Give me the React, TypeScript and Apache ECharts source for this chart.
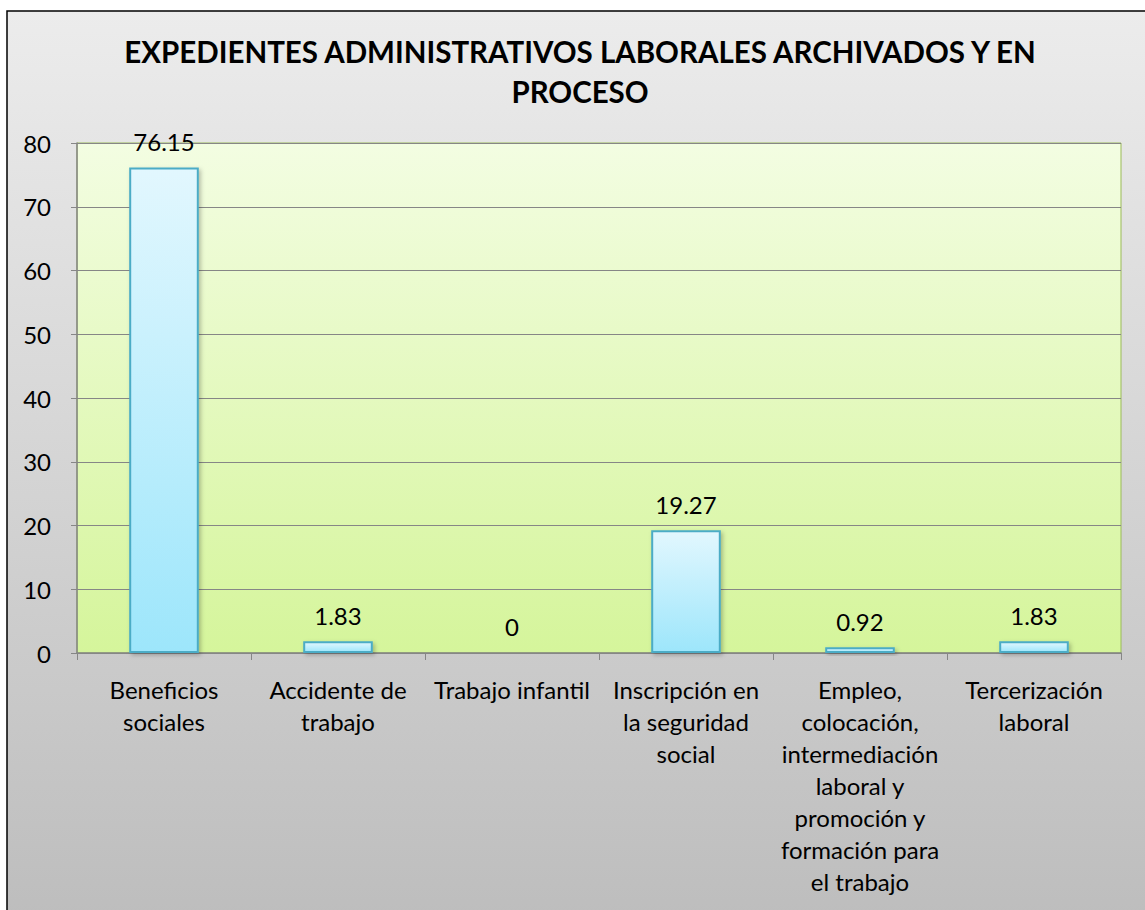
import React, { useEffect, useRef } from "react";
import * as echarts from "echarts";

const titleText = "EXPEDIENTES ADMINISTRATIVOS LABORALES ARCHIVADOS Y EN\nPROCESO";
const categories = [
  "Beneficios\nsociales",
  "Accidente de\ntrabajo",
  "Trabajo infantil",
  "Inscripción en\nla seguridad\nsocial",
  "Empleo,\ncolocación,\nintermediación\nlaboral y\npromoción y\nformación para\nel trabajo",
  "Tercerización\nlaboral",
];
const values = [76.15, 1.83, 0, 19.27, 0.92, 1.83];
const yMin = 0;
const yMax = 80;
const yInterval = 10;

const FONT = "Lato, 'Open Sans', sans-serif";

export default function App() {
  const ref = useRef<HTMLDivElement>(null);
  useEffect(() => {
    document.body.style.margin = "0";
    const chart = echarts.init(ref.current!, null, { renderer: "svg" });
    chart.setOption({
      animation: false,
      textStyle: { fontFamily: FONT },
      title: {
        text: titleText,
        left: 575,
        textAlign: "center",
        top: 26,
        textStyle: {
          fontFamily: FONT,
          fontSize: 29.5,
          fontWeight: "bold",
          color: "#000",
          lineHeight: 40,
        },
      },
      graphic: [
        {
          type: "rect",
          z: -100,
          shape: { x: 7, y: 11, width: 1160, height: 930 },
          style: {
            fill: new echarts.graphic.LinearGradient(0, 0, 0, 1, [
              { offset: 0, color: "#ececec" },
              { offset: 1, color: "#bcbcbc" },
            ]),
            stroke: "#000",
            lineWidth: 1.5,
          },
        },
      ],
      grid: {
        left: 77,
        top: 143,
        width: 1044,
        height: 510,
        show: true,
        borderColor: "#9bbb59",
        borderWidth: 1,
        backgroundColor: new echarts.graphic.LinearGradient(0, 0, 0, 1, [
          { offset: 0, color: "#f3fde2" },
          { offset: 1, color: "#d5f59b" },
        ]),
      },
      xAxis: {
        type: "category",
        data: categories,
        axisLine: { show: true, lineStyle: { color: "#868686", width: 1.5 } },
        axisTick: { show: true, alignWithLabel: false, length: 7, lineStyle: { color: "#868686" } },
        axisLabel: {
          interval: 0,
          color: "#000",
          fontSize: 24,
          lineHeight: 32,
          margin: 20,
          fontFamily: FONT,
        },
      },
      yAxis: {
        type: "value",
        min: yMin,
        max: yMax,
        interval: yInterval,
        axisLine: { show: true, lineStyle: { color: "#868686", width: 1.5 } },
        axisTick: { show: true, length: 6, lineStyle: { color: "#868686" } },
        splitLine: { show: true, lineStyle: { color: "#868686", width: 1 } },
        axisLabel: { color: "#000", fontSize: 24, margin: 26, fontFamily: FONT },
      },
      series: [
        {
          type: "bar",
          data: values,
          barWidth: "40%",
          itemStyle: {
            color: new echarts.graphic.LinearGradient(0, 0, 0, 1, [
              { offset: 0, color: "#e2f7fe" },
              { offset: 1, color: "#9de6fb" },
            ]),
            borderColor: "#4bacc6",
            borderWidth: 2,
            shadowBlur: 4,
            shadowColor: "rgba(0,0,0,0.25)",
            shadowOffsetX: 2,
            shadowOffsetY: 2,
          },
          label: {
            show: true,
            position: "top",
            distance: 14,
            color: "#000",
            fontSize: 24,
            fontFamily: FONT,
          },
        },
      ],
    });
    return () => chart.dispose();
  }, []);
  return <div ref={ref} style={{ width: 1145, height: 910 }} />;
}
